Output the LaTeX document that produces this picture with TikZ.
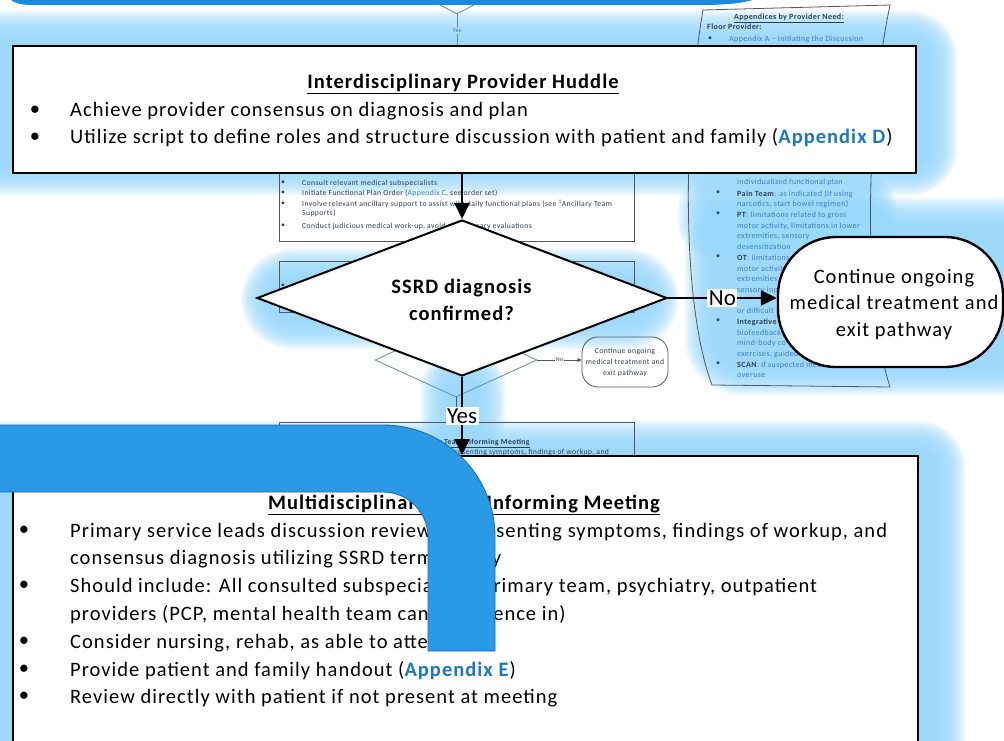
\documentclass[tikz,border=0pt]{standalone}
\usepackage{fontspec}
\setmainfont{Carlito}[LetterSpace=5]
\newfontfamily\labelfont{Carlito}
\usetikzlibrary{arrows.meta,shapes.geometric}

\definecolor{glowblue}{RGB}{152,217,252}
\definecolor{bandblue}{RGB}{42,154,230}
\definecolor{bandedge}{RGB}{30,110,180}
\definecolor{barblue}{RGB}{24,138,224}
\definecolor{linkblue}{RGB}{30,118,200}
\definecolor{faint}{RGB}{45,62,90}
\definecolor{faintblue}{RGB}{60,125,195}
\definecolor{faintline}{RGB}{80,88,98}
\definecolor{faintdiam}{RGB}{95,140,180}

\newcommand{\bigtxt}{\fontsize{20.5}{24}\selectfont}
\newcommand{\conttxt}{\fontsize{20.5}{24}\selectfont}
\newcommand{\lbltxt}{\labelfont\fontsize{23}{26}\selectfont}
\newcommand{\tinytxt}{\fontsize{7.7}{8.5}\selectfont}
\newcommand{\scrolltxt}{\fontsize{8}{9}\selectfont}

% soft light-blue highlight: stacked translucent rounded rectangles
% #1,#2 = top-left, #3,#4 = bottom-right of the solid core, #5 = corner radius
\newcommand{\glowpatch}[5]{%
  \foreach \g in {0,...,13}{%
    \pgfmathsetmacro{\gx}{(13-\g)*2.1}%
    \pgfmathsetmacro{\gr}{#5+\gx}%
    \fill[glowblue, opacity=0.16, rounded corners=\gr pt]
      ({#1-\gx},{#2-\gx}) rectangle ({#3+\gx},{#4+\gx});
  }}

\begin{document}
\begin{tikzpicture}[x=1pt, y=-1pt,
  bigbox/.style={draw=black, line width=2.4pt, fill=white, rectangle, inner sep=0pt},
  bigtext/.style={font=\bigtxt, inner sep=0pt, text=black},
  conttext/.style={font=\conttxt, inner sep=0pt, text=black},
  arr/.style={draw=black, line width=2pt, -{Triangle[length=16pt,width=15pt]}},
  lbl/.style={fill=white, font=\lbltxt, inner sep=1.5pt},
  faintbox/.style={draw=faintline, line width=0.8pt, inner sep=0pt},
  ftext/.style={font=\tinytxt, text=faint, inner sep=0pt},
  stext/.style={font=\scrolltxt, text=faintblue, inner sep=0pt},
  sdark/.style={font=\scrolltxt, text=faint, inner sep=0pt},
  farr/.style={draw=faintline, line width=0.7pt, -{Triangle[length=4pt,width=4pt]}},
]
\useasboundingbox (0,0) rectangle (1004,741);
\clip (0,0) rectangle (1004,741);
\fill[white] (0,0) rectangle (1004,741);

% ---------- highlight glow ----------
\glowpatch{-30}{38}{930}{168}{20}
\glowpatch{705}{200}{870}{232}{10}
\glowpatch{268}{276}{652}{322}{25}
\glowpatch{712}{225}{1040}{368}{30}
\glowpatch{448}{378}{478}{428}{10}
\glowpatch{-30}{448}{938}{780}{20}

% ---------- underlying small flowchart ----------
\node[diamond, draw=faintdiam, line width=0.8pt, minimum width=114pt, minimum height=60pt, inner sep=0pt] (prevq) at (457,-16) {};
\node[font=\fontsize{6}{7}\selectfont\bfseries, text=faintdiam, inner sep=1pt] (prevyes) at (457,31) {Yes};
\coordinate (sbox1top) at (457,45);
\draw[faintdiam, line width=0.8pt] (prevq.south) -- (prevyes.north);
\draw[faintdiam, line width=0.8pt] (prevyes.south) -- (sbox1top);

\node[faintbox, minimum width=355pt, minimum height=100pt, anchor=south west] (sbox1) at (279,242) {};
\foreach \yy in {183,193,204,226} \node[ftext] at (283,\yy) {\textbullet};
\node[ftext, anchor=base west] (s1a) at (302,185.5) {Consult relevant medical subspecialists};
\node[ftext, anchor=base west] (s1b) at (302,195.5) {Initiate Functional Plan Order ({\color{faintblue}Appendix C}, see order set)};
\node[ftext, anchor=base west] (s1c) at (302,206.5) {Involve relevant ancillary support to assist with daily functional plans (see \textsuperscript{1}Ancillary Team};
\node[ftext, anchor=base west] (s1d) at (302,215.5) {Supports)};
\node[ftext, anchor=base west] (s1e) at (302,228.5) {Conduct judicious medical work-up, avoid unnecessary evaluations};

\node[faintbox, minimum width=355pt, minimum height=51pt, anchor=north west] (sbox2) at (279,261) {};
\node[ftext] (s2a) at (283,286) {\textbullet};

\node[diamond, draw=faintdiam, line width=0.8pt, minimum width=162pt, minimum height=74pt, inner sep=0pt] (sdq) at (456,360) {};
\node[draw=faintline, line width=0.8pt, rounded corners=16pt, minimum width=86pt, minimum height=50pt, inner sep=0pt] (scont) at (625,362) {};
\node[ftext, anchor=base] at (625,353) {Continue ongoing};
\node[ftext, anchor=base] at (625,364) {medical treatment and};
\node[ftext, anchor=base] at (625,375) {exit pathway};
\draw[farr] (sdq.east) -- node[fill=white, font=\fontsize{6}{7}\selectfont, text=faint, inner sep=0.5pt]{No} (sdq.east -| scont.west);
\coordinate (sbox3top) at (456,422);
\draw[faintline, line width=0.8pt] (sdq.south) -- (sbox3top);

\node[faintbox, minimum width=355pt, minimum height=80pt, anchor=north west] (sbox3) at (279,422) {};
\node[ftext, anchor=base] (s3t) at (456,444) {\textbf{\underline{Multidisciplinary Team Informing Meeting}}};
\node[ftext] at (283,452) {\textbullet};
\node[ftext, anchor=base west] (s3a) at (302,454.5) {Primary service leads discussion reviewing presenting symptoms, findings of workup, and};

% appendix list
\draw[faintline, line width=0.8pt] (703,10) -- (890,5) .. controls (866,120) and (862,300) .. (890,387) -- (712,385) .. controls (680,300) and (684,120) .. cycle;
\node[sdark, anchor=base] (apt) at (789,20) {\textbf{\underline{Appendices by Provider Need:}}};
\node[sdark, anchor=base west] (apf) at (707,30) {\textbf{Floor Provider:}};
\node[sdark] at (710,39) {\textbullet};
\node[stext, anchor=base west] (apa) at (729,42) {Appendix A -- Initiating the Discussion};
\foreach \yy in {193,214,257,321,364} \node[sdark] at (718,\yy) {\textbullet};
\node[stext, anchor=base west] at (737,185) {individualized functional plan};
\node[stext, anchor=base west] at (737,196) {{\color{faint}\textbf{Pain Team}}: as indicated (if using};
\node[stext, anchor=base west] at (737,206) {narcotics, start bowel regimen)};
\node[stext, anchor=base west] at (737,217) {{\color{faint}\textbf{PT}}: limitations related to gross};
\node[stext, anchor=base west] at (737,228) {motor activity, limitations in lower};
\node[stext, anchor=base west] at (737,238) {extremities, sensory};
\node[stext, anchor=base west] at (737,249) {desensitization};
\node[stext, anchor=base west] at (737,260) {{\color{faint}\textbf{OT}}: limitations};
\node[stext, anchor=base west] at (737,271) {motor activity,};
\node[stext, anchor=base west] at (737,281.5) {extremities,};
\node[stext, anchor=base west] at (737,292) {sensory input};
\node[stext, anchor=base west] at (737,313) {or difficult};
\node[stext, anchor=base west] at (737,324) {{\color{faint}\textbf{Integrative}}};
\node[stext, anchor=base west] at (737,335) {biofeedback,};
\node[stext, anchor=base west] at (737,345.5) {mind-body co};
\node[stext, anchor=base west] at (737,356.5) {exercises, guided};
\node[stext, anchor=base west] at (737,367) {{\color{faint}\textbf{SCAN}}: if suspected medical abuse/};
\node[stext, anchor=base west] at (737,377.5) {overuse};

% ---------- foreground flowchart ----------
\node[bigbox, minimum width=903pt, minimum height=127pt, anchor=north west] (huddle) at (12,45) {};
\node[bigtext, anchor=base] (huddletitle) at (463,89) {\textbf{\underline{Interdisciplinary Provider Huddle}}};
\node[bigtext] (hb1) at (35,111) {\textbullet};
\node[bigtext] (hb2) at (35,138) {\textbullet};
\node[bigtext, anchor=base west] (hl1) at (70,117) {Achieve provider consensus on diagnosis and plan};
\node[bigtext, anchor=base west] (hl2) at (70,144) {Utilize script to define roles and structure discussion with patient and family ({\color{linkblue}\textbf{Appendix D}})};

\node[diamond, draw=black, line width=2pt, fill=white, minimum width=410pt, minimum height=156pt, inner sep=0pt, aspect=2.6] (check) at (462,298) {};
\node[bigtext, anchor=base] (checkl1) at (462,293) {\textbf{SSRD diagnosis}};
\node[bigtext, anchor=base] (checkl2) at (462,320) {\textbf{confirmed?}};

\node[draw=black, line width=2.4pt, fill=white, rounded corners=58pt, minimum width=225pt, minimum height=130pt, inner sep=0pt] (cont) at (890.5,302) {};
\node[conttext, anchor=base] (contl1) at (894,283) {Continue ongoing};
\node[conttext, anchor=base] (contl2) at (894,309.5) {medical treatment and};
\node[conttext, anchor=base] (contl3) at (894,336) {exit pathway};

\node[bigbox, line width=2pt, minimum width=905pt, minimum height=330pt, anchor=north west] (meeting) at (12,455) {};
\node[bigtext, anchor=base] (meettitle) at (464,509) {\textbf{\underline{Multidisciplinary Team Informing Meeting}}};
\foreach \yy/\nm in {531/mb1,586/mb2,642/mb3,670/mb4,697/mb5} \node[bigtext] (\nm) at (24,\yy) {\textbullet};
\node[bigtext, anchor=base west] (ml1) at (70,537) {Primary service leads discussion reviewing presenting symptoms, findings of workup, and};
\node[bigtext, anchor=base west] (ml2) at (70,564) {consensus diagnosis utilizing SSRD terminology};
\node[bigtext, anchor=base west] (ml3) at (70,592) {Should include: All consulted subspecialists, primary team, psychiatry, outpatient};
\node[bigtext, anchor=base west] (ml4) at (70,620) {providers (PCP, mental health team can conference in)};
\node[bigtext, anchor=base west] (ml5) at (70,648) {Consider nursing, rehab, as able to attend};
\node[bigtext, anchor=base west] (ml6) at (70,676) {Provide patient and family handout ({\color{linkblue}\textbf{Appendix E}})};
\node[bigtext, anchor=base west] (ml7) at (70,703) {Review directly with patient if not present at meeting};

% ---------- bent callout band ----------
\filldraw[fill=bandblue, draw=bandedge, line width=0.9pt]
  (-5,425) -- (383,425) arc[start angle=90, end angle=0, radius=112pt]
  -- (495,651) -- (428,651) -- (428,537) arc[start angle=0, end angle=90, radius=45pt]
  -- (-5,492) -- cycle;

% ---------- connectors ----------
\draw[arr] (huddle.south -| check.north) -- (check.north);
\draw[arr] (check.east) -- node[lbl]{No} (check.east -| cont.west);
\draw[arr] (check.south) -- node[lbl]{Yes} (check.south |- meeting.north);

% ---------- top band ----------
\fill[barblue] (5,-10) -- (10,-1) .. controls (14,3) and (20,5) .. (32,5) -- (700,5)
  .. controls (728,5) and (748,3) .. (760,-3) -- (760,-10) -- cycle;
\end{tikzpicture}
\end{document}
